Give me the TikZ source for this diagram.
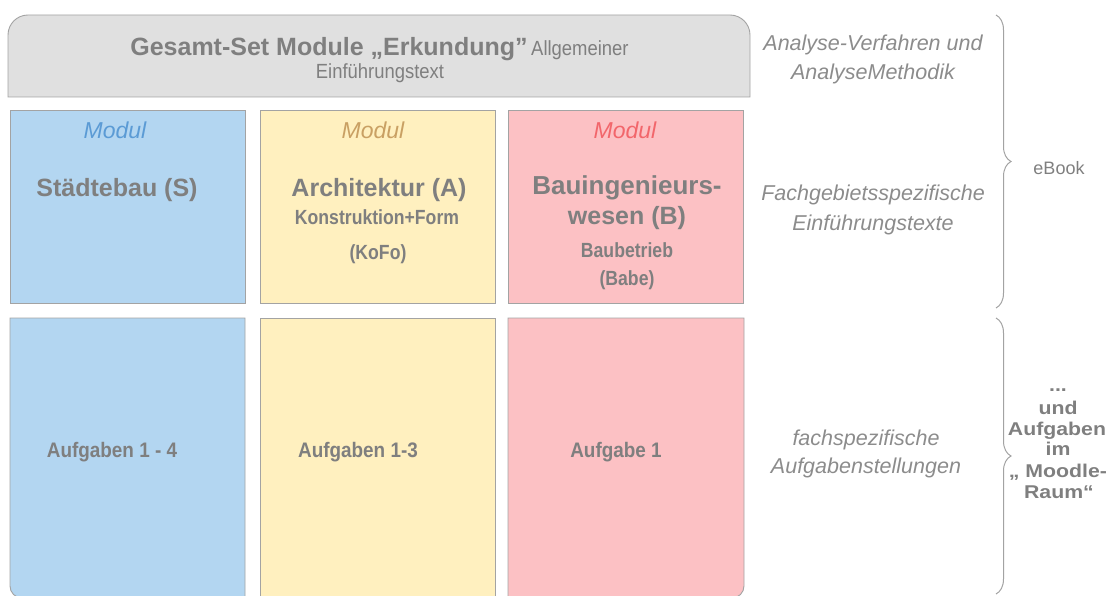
\documentclass[tikz,border=0pt]{standalone}
\usepackage{fontspec}
\setmainfont{Liberation Sans}
\newfontfamily\narrow[FakeStretch=0.9]{Liberation Sans}
\newfontfamily\cond[FakeStretch=0.86]{Liberation Sans}
\newfontfamily\wide[FakeStretch=1.15]{Liberation Sans}
\usetikzlibrary{decorations.pathreplacing}
\definecolor{txt}{HTML}{7F7F7F}
\definecolor{bordergray}{HTML}{A3A3A3}
\definecolor{topfill}{HTML}{E0E0E0}
\definecolor{bluefill}{HTML}{B3D6F1}
\definecolor{yellowfill}{HTML}{FFF0BF}
\definecolor{redfill}{HTML}{FCC1C4}
\definecolor{bluetxt}{HTML}{5B9BD5}
\definecolor{goldtxt}{HTML}{C9A063}
\definecolor{redtxt}{HTML}{F2666B}
\definecolor{sidetxt}{HTML}{8C8C8C}
\tikzset{
  box/.style={draw=bordergray, line width=0.9pt, minimum width=235pt, anchor=north west, inner sep=0pt},
  edge/.style={draw=bordergray, line width=0.9pt},
  t/.style={text=txt, anchor=base, inner sep=0pt},
  big/.style={t, font=\bfseries\fontsize{25}{30}\selectfont},
  mid/.style={t, font=\cond\bfseries\fontsize{20.5}{24}\selectfont},
  task/.style={t, font=\narrow\bfseries\fontsize{21}{24}\selectfont},
  modul/.style={anchor=base, inner sep=0pt, font=\itshape\fontsize{23}{26}\selectfont},
  side/.style={text=sidetxt, anchor=base, inner sep=0pt, font=\itshape\fontsize{21.5}{26}\selectfont},
  rblk/.style={t, font=\wide\bfseries\fontsize{18.5}{22}\selectfont},
  brc/.style={draw=bordergray, line width=1pt, decorate, decoration={brace, amplitude=15pt}}
}
\begin{document}
\begin{tikzpicture}[x=1pt, y=-1pt]
\useasboundingbox (0,0) rectangle (1109,596);
% top gray box (rounded top corners)
\path[fill=topfill, edge] (8,97) -- (8,35) arc[start angle=180, end angle=270, radius=20] -- (730,15) arc[start angle=270, end angle=360, radius=20] -- (750,97) -- cycle;
\node[inner sep=0pt, minimum width=742pt, minimum height=82pt, anchor=north west] (top) at (8,15) {};
\node[big] (title) at (329,56) {Gesamt-Set Module „Erkundung\char"0022};
\node[t, anchor=base west, font=\narrow\fontsize{20.5}{24}\selectfont] (allg) at (531,56) {Allgemeiner};
\node[t, font=\narrow\fontsize{20.5}{24}\selectfont] (einf) at (380,79) {Einführungstext};
% row 2
\node[box, fill=bluefill, minimum height=193pt] (s) at (10,110) {};
\node[box, fill=yellowfill, minimum height=193pt] (a) at (260,110) {};
\node[box, fill=redfill, minimum height=193pt] (b) at (508,110) {};
\node[modul, text=bluetxt] (ms) at (115,139) {Modul};
\node[modul, text=goldtxt] (ma) at (373,139) {Modul};
\node[modul, text=redtxt] (mb) at (625,139) {Modul};
\node[big] (st) at (117,197) {Städtebau (S)};
\node[big] (at) at (379,197) {Architektur (A)};
\node[mid] (at2) at (377,225) {Konstruktion+Form};
\node[mid] (at3) at (378,260) {(KoFo)};
\node[big, font=\bfseries\fontsize{26}{30}\selectfont] (bt) at (627,195) {Bauingenieurs-};
\node[big] (bt2) at (627,225) {wesen (B)};
\node[mid] (bt3) at (627,257.5) {Baubetrieb};
\node[mid] (bt4) at (627,285.5) {(Babe)};
% row 3
\path[fill=bluefill] (245,318) -- (10,318) -- (10,586) arc[start angle=180, end angle=90, radius=12] -- (245,598) -- cycle;
\path[edge] (245,598) -- (245,318) -- (10,318) -- (10,586) arc[start angle=180, end angle=90, radius=12];
\node[inner sep=0pt, minimum width=235pt, minimum height=278pt, anchor=north west] (s3) at (10,318) {};
\node[box, fill=yellowfill, minimum height=290pt] (a3) at (260,318) {};
\path[fill=redfill] (508,318) -- (744,318) -- (744,586) arc[start angle=0, end angle=90, radius=12] -- (508,598) -- cycle;
\path[edge] (508,598) -- (508,318) -- (744,318) -- (744,586) arc[start angle=0, end angle=90, radius=12];
\node[inner sep=0pt, minimum width=236pt, minimum height=278pt, anchor=north west] (b3) at (508,318) {};
\node[task] (s3t) at (112,457.5) {Aufgaben 1 - 4};
\node[task] (a3t) at (358,457.5) {Aufgaben 1-3};
\node[task] (b3t) at (616,457.5) {Aufgabe 1};
% side texts
\node[side] (sd1) at (873,51) {Analyse-Verfahren und};
\node[side] (sd1b) at (873,80) {AnalyseMethodik};
\node[side] (sd2) at (873,201) {Fachgebietsspezifische};
\node[side] (sd2b) at (873,231) {Einführungstexte};
\node[side] (sd3) at (866,445) {fachspezifische};
\node[side] (sd3b) at (866,473) {Aufgabenstellungen};
% braces
\coordinate (b1t) at (996,15);
\coordinate (b1b) at (996,308);
\coordinate (b2t) at (996,318);
\coordinate (b2b) at (996,594);
\draw[brc] (b1t) -- (b1b);
\draw[brc] (b2t) -- (b2b);
\node[t, font=\fontsize{18}{22}\selectfont] (ebook) at (1059,174.5) {eBook};
\node[rblk] (dots) at (1058,391) {...};
\node[rblk] (r1) at (1058,414) {und};
\node[rblk] (r2) at (1057,435) {Aufgaben};
\node[rblk] (r3) at (1058,455) {im};
\node[rblk] (r4) at (1058,477) {„ Moodle-};
\node[rblk] (r5) at (1059,498) {Raum“};
\end{tikzpicture}
\end{document}
